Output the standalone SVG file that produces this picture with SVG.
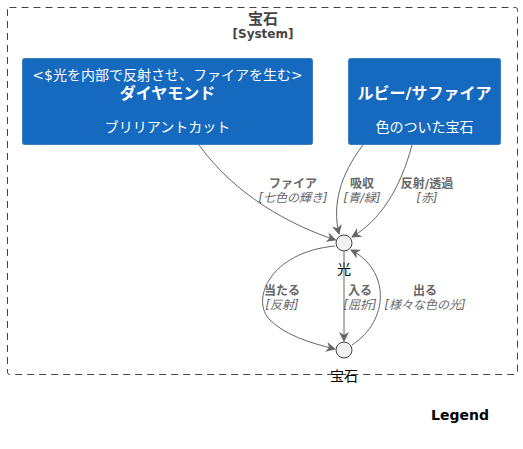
<svg xmlns="http://www.w3.org/2000/svg" width="523" height="449" viewBox="0 0 523 449">
<defs>
<marker id="ah" viewBox="0 0 10 10" refX="9" refY="5" markerWidth="10" markerHeight="10" markerUnits="userSpaceOnUse" orient="auto">
<path d="M0,0 L10,5 L0,10 L3,5 Z" fill="#666666"/>
</marker>
</defs>
<style>
text{font-family:"DejaVu Sans","Noto Sans CJK JP",sans-serif;}
.box{fill:#1569BE;stroke:#3C7FC0;stroke-width:1;}
.wt{fill:#FFFFFF;text-anchor:middle;}
.edge{fill:none;stroke:#666666;stroke-width:1;marker-end:url(#ah);}
.lb{fill:#666666;font-size:12px;font-weight:bold;text-anchor:middle;}
.li{fill:#666666;font-size:12px;font-style:italic;text-anchor:middle;}
.pt{fill:#F1F1F1;stroke:#444444;stroke-width:1;}
</style>
<rect width="523" height="449" fill="#FFFFFF"/>
<g id="system">
<rect x="7.5" y="7.5" width="510" height="367" fill="none" stroke="#444444" stroke-width="1" stroke-dasharray="7,5" rx="2"/>
<text x="263" y="24" font-size="15" font-weight="bold" fill="#444444" text-anchor="middle">宝石</text>
<text x="263" y="38" font-size="12" font-weight="bold" fill="#444444" text-anchor="middle">[System]</text>
</g>
<g id="diamond">
<rect class="box" x="22.5" y="58.5" width="290" height="86" rx="2"/>
<text class="wt" x="167.5" y="80" font-size="14">&lt;$光を内部で反射させ、ファイアを生む&gt;</text>
<text class="wt" x="167.5" y="99" font-size="16" font-weight="bold">ダイヤモンド</text>
<text class="wt" x="167.5" y="132" font-size="14">ブリリアントカット</text>
</g>
<g id="ruby">
<rect class="box" x="348.5" y="58.5" width="152" height="86" rx="2"/>
<text class="wt" x="424.5" y="99" font-size="16" font-weight="bold">ルビー/サファイア</text>
<text class="wt" x="424.5" y="132" font-size="14">色のついた宝石</text>
</g>
<g id="light">
<circle class="pt" cx="344" cy="243" r="8"/>
<text x="344" y="274" font-size="14" fill="#000000" text-anchor="middle">光</text>
</g>
<g id="gem">
<circle class="pt" cx="344" cy="350" r="8"/>
<text x="344" y="381" font-size="14" fill="#000000" text-anchor="middle">宝石</text>
</g>
<g id="connectors">
<path class="edge" d="M199,145 C235,195 290,225 335.5,240"/>
<path class="edge" d="M363,145 C340,175 332,205 339,234"/>
<path class="edge" d="M412,145 C400,190 380,220 352,237"/>
<path class="edge" d="M335,246 C270,252 250,300 270,320 C285,335 310,343 335,349"/>
<path class="edge" d="M344,251 L344,341"/>
<path class="edge" d="M352,345 C390,320 390,270 351,250"/>
<text class="lb" x="293" y="188">ファイア</text>
<text class="li" x="293" y="202">[七色の輝き]</text>
<text class="lb" x="362" y="188">吸収</text>
<text class="li" x="362" y="202">[青/緑]</text>
<text class="lb" x="427" y="188">反射/透過</text>
<text class="li" x="427" y="202">[赤]</text>
<text class="lb" x="282" y="295">当たる</text>
<text class="li" x="282" y="309">[反射]</text>
<text class="lb" x="360" y="295">入る</text>
<text class="li" x="360" y="309">[屈折]</text>
<text class="lb" x="425" y="295">出る</text>
<text class="li" x="425" y="309">[様々な色の光]</text>
</g>
<g id="legend">
<text x="460" y="420" font-size="14" font-weight="bold" fill="#000000" text-anchor="middle">Legend</text>
</g>
</svg>
